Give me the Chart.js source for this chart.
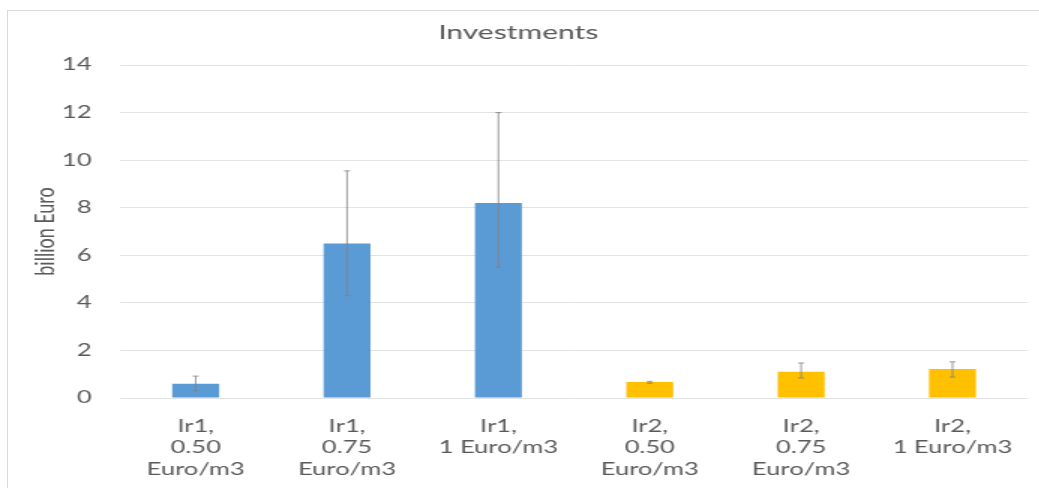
<!DOCTYPE html>
<html>
<head>
<meta charset="utf-8">
<script src="https://cdn.jsdelivr.net/npm/chart.js@4/dist/chart.umd.min.js"></script>
<style>
  html, body { margin: 0; padding: 0; background: #fff; overflow: hidden; }
  #frame {
    position: absolute; left: 7px; top: 10px;
    width: 1060px; height: 490px;
    border: 1px solid #d9d9d9; box-sizing: border-box;
  }
  /* the reference picture is stretched sideways, so the chart is too */
  #wrap {
    position: absolute; left: 0; top: 0;
    width: 693px; height: 488px;
    transform: scaleX(1.5); transform-origin: 0 0;
  }
</style>
</head>
<body>
<div id="frame"></div>
<div id="wrap"><canvas id="investChart"></canvas></div>
<script>
const categories = [
    ['Ir1,', '0.50', 'Euro/m3'],
    ['Ir1,', '0.75', 'Euro/m3'],
    ['Ir1,', '1 Euro/m3'],
    ['Ir2,', '0.50', 'Euro/m3'],
    ['Ir2,', '0.75', 'Euro/m3'],
    ['Ir2,', '1 Euro/m3']
];
const investValues = [0.6, 6.5, 8.2, 0.67, 1.1, 1.22];
const errorLow = [0.3, 4.3, 5.5, 0.62, 0.84, 0.88];
const errorHigh = [0.92, 9.55, 12.0, 0.7, 1.47, 1.52];
const barColors = ['#5b9bd5', '#5b9bd5', '#5b9bd5', '#ffc000', '#ffc000', '#ffc000'];
const yTicks = [0, 2, 4, 6, 8, 10, 12, 14];

const textColor = '#595959';
const fontFamily = 'Lato, "Open Sans", sans-serif';

// whiskers, placed with the chart's own scales
const errorBars = {
    id: 'errorBars',
    afterDatasetsDraw(c) {
        const meta = c.getDatasetMeta(0);
        const y = c.scales.y;
        const g = c.ctx;
        g.save();
        g.strokeStyle = '#808080';
        g.lineWidth = 0.8;
        meta.data.forEach((bar, i) => {
            const x = bar.x;
            const top = y.getPixelForValue(errorHigh[i]);
            const bot = y.getPixelForValue(errorLow[i]);
            g.beginPath();
            g.moveTo(x, top); g.lineTo(x, bot);
            g.moveTo(x - 2, top); g.lineTo(x + 2, top);
            g.moveTo(x - 2, bot); g.lineTo(x + 2, bot);
            g.stroke();
        });
        g.restore();
    }
};

const ctx = document.getElementById('investChart').getContext('2d');
const chart = new Chart(ctx, {
    type: 'bar',
    data: {
        labels: categories,
        datasets: [{
            label: 'Investments',
            data: investValues,
            backgroundColor: barColors,
            borderWidth: 0,
            categoryPercentage: 1,
            barPercentage: 0.31
        }]
    },
    options: {
        responsive: true,
        maintainAspectRatio: false,
        animation: false,
        layout: { padding: { left: 0, right: 2, top: 21, bottom: 0 } },
        plugins: {
            legend: { display: false },
            tooltip: { enabled: false },
            title: {
                display: true,
                text: 'Investments',
                color: textColor,
                font: { family: fontFamily, size: 20, weight: 'normal', lineHeight: 1.2 },
                padding: { top: 0, bottom: 20 }
            }
        },
        scales: {
            y: {
                min: 0,
                max: 14,
                afterBuildTicks: (s) => { s.ticks = yTicks.map(v => ({ value: v })); },
                afterFit: (s) => { s.width = 80; },
                grid: { color: '#e3e3e3', drawTicks: false },
                border: { display: false },
                ticks: {
                    color: textColor,
                    padding: 19,
                    font: { family: fontFamily, size: 17 }
                },
                title: {
                    display: true,
                    text: 'billion Euro',
                    color: textColor,
                    font: { family: fontFamily, size: 18 },
                    padding: { top: 19, bottom: 0 }
                }
            },
            x: {
                afterFit: (s) => { s.height = 90; },
                grid: { display: false, drawTicks: false },
                border: { display: false },
                ticks: {
                    color: textColor,
                    padding: 18,
                    maxRotation: 0,
                    autoSkip: false,
                    font: { family: fontFamily, size: 17, lineHeight: 1.25 }
                }
            }
        }
    },
    plugins: [errorBars]
});
</script>
</body>
</html>
